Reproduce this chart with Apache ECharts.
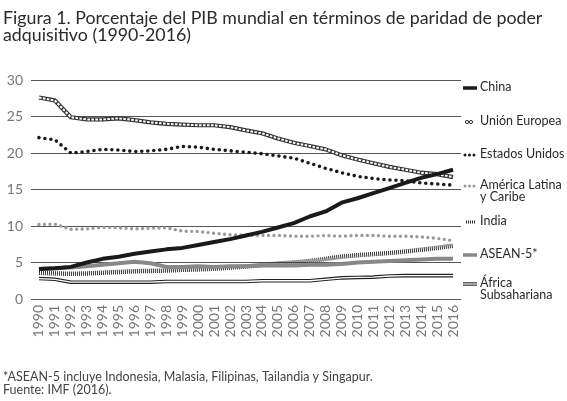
<!DOCTYPE html>
<html>
<head>
<meta charset="utf-8">
<script src="https://cdn.jsdelivr.net/npm/echarts@6/dist/echarts.min.js"></script>
<style>
html,body{margin:0;padding:0;background:#fff;}
#c{width:567px;height:401px;}
</style>
</head>
<body>
<div id="c"></div>
<script>
var years = ['1990','1991','1992','1993','1994','1995','1996','1997','1998','1999','2000','2001','2002','2003','2004','2005','2006','2007','2008','2009','2010','2011','2012','2013','2014','2015','2016'];
var yTicks = [0, 5, 10, 15, 20, 25, 30];
var china = [4.1,4.2,4.4,5.0,5.5,5.8,6.2,6.5,6.8,7.0,7.4,7.8,8.2,8.7,9.2,9.8,10.4,11.3,12.0,13.2,13.8,14.5,15.2,15.9,16.6,17.1,17.7];
var unionEuropea = [27.6,27.2,24.9,24.6,24.6,24.75,24.5,24.2,24.0,23.9,23.8,23.8,23.55,23.1,22.7,22.0,21.4,20.95,20.5,19.7,19.1,18.6,18.1,17.7,17.3,17.1,16.7];
var estadosUnidos = [22.1,21.8,20.0,20.2,20.5,20.4,20.2,20.3,20.5,20.9,20.8,20.5,20.3,20.1,19.9,19.6,19.3,18.6,17.9,17.3,16.8,16.5,16.3,16.2,15.9,15.75,15.6];
var americaLatina = [10.2,10.25,9.55,9.6,9.8,9.75,9.6,9.7,9.75,9.3,9.25,9.0,8.8,8.75,8.7,8.7,8.6,8.6,8.7,8.6,8.7,8.7,8.6,8.6,8.5,8.3,8.0];
var india = [3.6,3.5,3.45,3.5,3.6,3.7,3.8,3.85,3.9,4.0,4.05,4.15,4.3,4.45,4.65,4.85,5.0,5.2,5.5,5.8,6.0,6.15,6.3,6.5,6.75,7.0,7.3];
var asean5 = [4.1,4.2,4.3,4.5,4.7,4.9,5.1,4.9,4.4,4.4,4.5,4.4,4.5,4.5,4.6,4.6,4.6,4.7,4.7,4.8,5.0,5.1,5.2,5.3,5.4,5.5,5.5];
var africa = [2.8,2.7,2.3,2.3,2.3,2.3,2.3,2.3,2.4,2.4,2.4,2.4,2.4,2.4,2.5,2.5,2.5,2.5,2.7,2.9,2.95,3.0,3.15,3.2,3.2,3.2,3.2];
var legendNames = ['China','Unión Europea','Estados Unidos','América Latina\ny Caribe','India','ASEAN-5*','África\nSubsahariana'];
var titleText = 'Figura 1. Porcentaje del PIB mundial en términos de paridad de poder\nadquisitivo (1990-2016)';
var noteText = '*ASEAN-5 incluye Indonesia, Malasia, Filipinas, Tailandia y Singapur.\nFuente: IMF (2016).';

var FONT = 'Lato';
function ln(name, data, color, width, type, z, cap) {
  return {
    name: name, type: 'line', data: data, showSymbol: false, symbol: 'none',
    silent: true, z: z,
    lineStyle: {color: color, width: width, type: type || 'solid', cap: cap || 'butt', join: 'round'}
  };
}
var series = [
  ln('África Subsahariana', africa, '#222', 3.6, 'solid', 2),
  ln('África Subsahariana (in)', africa, '#fff', 1.3, 'solid', 3),
  ln('India', india, '#333', 4.5, [1, 1], 4),
  ln('ASEAN-5*', asean5, '#888', 4, 'solid', 5),
  ln('América Latina y Caribe', americaLatina, '#9a9a9a', 3.4, [0, 5.5], 6, 'round'),
  ln('Estados Unidos', estadosUnidos, '#1a1a1a', 3.6, [0, 6], 7, 'round'),
  ln('Unión Europea', unionEuropea, '#333', 4.2, 'solid', 8),
  ln('Unión Europea (in)', unionEuropea, '#fff', 2, [2.6, 1.4], 9),
  ln('China', china, '#1a1a1a', 4, 'solid', 10)
];

var gfx = [];
var legendY = [88, 122, 155, 186, 222, 255, 284];
var ix0 = 463, ix1 = 477;
function iconLine(y, stroke, w, dash, cap) {
  return {type: 'line', shape: {x1: ix0, y1: y, x2: ix1, y2: y},
    style: {stroke: stroke, lineWidth: w, lineDash: dash || null, lineCap: cap || 'butt'}};
}
gfx.push(iconLine(legendY[0], '#1a1a1a', 3.5));
gfx.push({type: 'circle', shape: {cx: 467, cy: legendY[1], r: 1.6}, style: {fill: '#fff', stroke: '#333', lineWidth: 1}});
gfx.push({type: 'circle', shape: {cx: 471, cy: legendY[1], r: 1.6}, style: {fill: '#fff', stroke: '#333', lineWidth: 1}});
gfx.push({type: 'line', shape: {x1: 465, y1: legendY[2], x2: 477, y2: legendY[2]}, style: {stroke: '#1a1a1a', lineWidth: 3, lineDash: [0, 4.5], lineCap: 'round'}});
gfx.push({type: 'line', shape: {x1: 465, y1: legendY[3], x2: 477, y2: legendY[3]}, style: {stroke: '#9a9a9a', lineWidth: 3, lineDash: [0, 4.5], lineCap: 'round'}});
gfx.push({type: 'line', shape: {x1: 466, y1: legendY[4], x2: 476, y2: legendY[4]}, style: {stroke: '#333', lineWidth: 3, lineDash: [1, 1]}});
gfx.push(iconLine(legendY[5], '#888', 3.5));
gfx.push(iconLine(legendY[6], '#222', 3.4));
gfx.push(iconLine(legendY[6], '#fff', 1.2));
for (var i = 0; i < legendNames.length; i++) {
  gfx.push({type: 'text', left: 480, top: legendY[i] - 8,
    style: {text: legendNames[i], fill: '#2a2a2a', font: '12.5px ' + FONT, lineHeight: 12.5}});
}
gfx.push({type: 'text', left: 3, top: 9,
  style: {text: titleText, fill: '#2a2a2a', font: '17.8px ' + FONT, lineHeight: 17.5}});
gfx.push({type: 'text', left: 3, top: 370,
  style: {text: noteText, fill: '#444', font: '12.5px ' + FONT, lineHeight: 13}});

var chart = echarts.init(document.getElementById('c'), null, {renderer: 'canvas'});
chart.setOption({
  animation: false,
  backgroundColor: '#fff',
  grid: {left: 31, right: 106, top: 80, bottom: 102, containLabel: false},
  xAxis: {
    type: 'category', data: years, boundaryGap: true,
    axisLine: {show: false}, axisTick: {show: false},
    axisLabel: {rotate: 90, color: '#777', fontSize: 14, fontFamily: FONT, margin: 6, interval: 0}
  },
  yAxis: {
    type: 'value', min: yTicks[0], max: yTicks[yTicks.length - 1], interval: 5,
    axisLine: {show: false}, axisTick: {show: false},
    axisLabel: {color: '#777', fontSize: 14, fontFamily: FONT, margin: 8},
    splitLine: {lineStyle: {color: '#555', width: 1}}
  },
  series: series,
  graphic: gfx
});
</script>
</body>
</html>
